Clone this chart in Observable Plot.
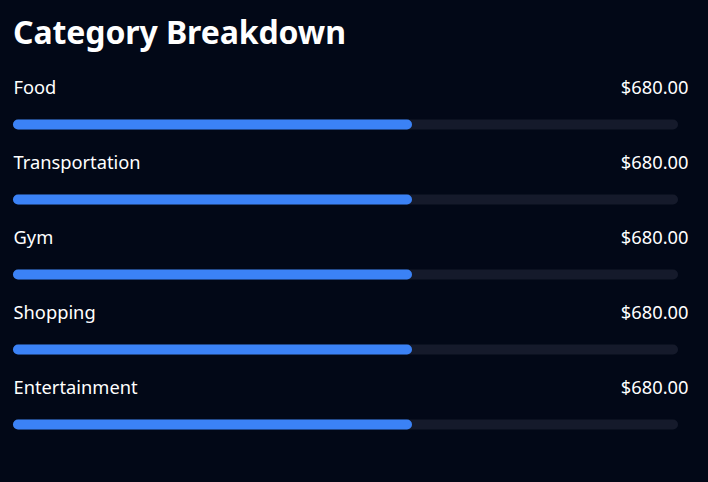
<!DOCTYPE html>
<html>
<head>
<meta charset="utf-8">
<script src="https://cdn.jsdelivr.net/npm/d3@7"></script>
<script src="https://cdn.jsdelivr.net/npm/@observablehq/plot@0.6"></script>
<style>
  html, body { margin: 0; padding: 0; background: #020817; width: 708px; height: 482px; overflow: hidden; }
  #title { height: 60px; line-height: 63px; padding-left: 13px; font-family: "Segoe UI", "Noto Sans", sans-serif; font-size: 32px; font-weight: 700; color: #ffffff; white-space: nowrap; letter-spacing: -0.1px; }
  #chart svg { display: block; }
</style>
</head>
<body>
<div id="title">Category Breakdown</div>
<div id="chart"></div>
<script>
const categories = ["Food", "Transportation", "Gym", "Shopping", "Entertainment"];
const amounts = [680, 680, 680, 680, 680];
const percents = [60, 60, 60, 60, 60];

const rows = categories.map((c, i) => ({category: c, amount: amounts[i], pct: percents[i]}));
const fmt = v => "$" + v.toFixed(2);
const font = '"Segoe UI", "Noto Sans", sans-serif';

const chart = Plot.plot({
  width: 708,
  height: 422,
  marginLeft: 13,
  marginRight: 20,
  marginTop: 0,
  marginBottom: 0,
  style: {background: "#020817", color: "#ffffff", fontFamily: font},
  x: {domain: [0, 100], range: [13, 678], axis: null},
  y: {domain: categories, range: [26.5, 401.5], type: "band", padding: 0, axis: null},
  marks: [
    Plot.barX(rows, {y: "category", x1: 0, x2: 100, fill: "#151a2b", rx: 5, insetTop: 32.5, insetBottom: 32.5}),
    Plot.barX(rows, {y: "category", x1: 0, x2: "pct", fill: "#3b82f6", rx: 5, insetTop: 32.5, insetBottom: 32.5}),
    Plot.text(rows, {y: "category", text: "category", frameAnchor: "left", textAnchor: "start", dy: -37, fill: "#ffffff", fontSize: 18.3}),
    Plot.text(rows, {y: "category", text: d => fmt(d.amount), frameAnchor: "right", textAnchor: "end", dy: -37, fill: "#ffffff", fontSize: 18.3})
  ]
});
document.getElementById("chart").appendChild(chart);
</script>
</body>
</html>
